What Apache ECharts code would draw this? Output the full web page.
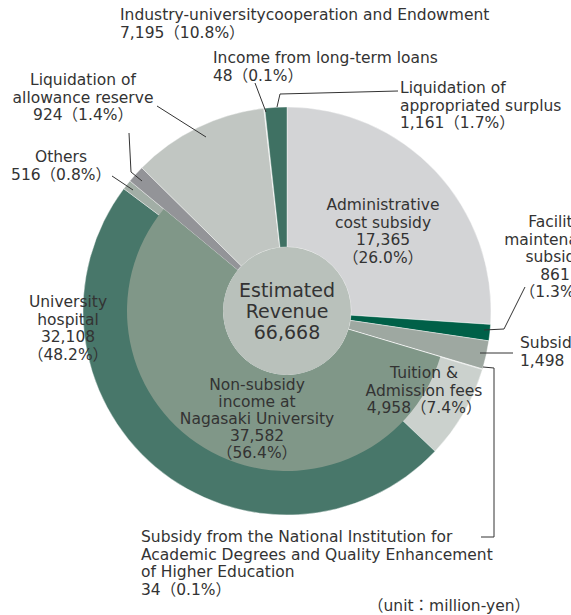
<!DOCTYPE html>
<html><head><meta charset="utf-8">
<script src="https://cdn.jsdelivr.net/npm/echarts@6/dist/echarts.min.js"></script>
<style>html,body{margin:0;padding:0;background:#fff}#c{width:571px;height:615px}</style>
</head><body><div id="c"></div>
<script>
// ---- data ----
const names = ['Administrative cost subsidy','Facility maintenance subsidy','Subsidy for facilities',
  'Subsidy from the National Institution for Academic Degrees and Quality Enhancement of Higher Education',
  'Tuition & Admission fees','University hospital','Others','Liquidation of allowance reserve',
  'Industry-universitycooperation and Endowment','Income from long-term loans','Liquidation of appropriated surplus'];
const values = [17365, 861, 1498, 34, 4958, 32108, 516, 924, 7195, 48, 1161];
const percents = [26.0, 1.3, 2.2, 0.1, 7.4, 48.2, 0.8, 1.4, 10.8, 0.1, 1.7];
const labelNameLines = [
  ['Administrative','cost subsidy'],
  ['Facility','maintenance','subsidy'],
  ['Subsidy for facilities'],
  ['Subsidy from the National Institution for','Academic Degrees and Quality Enhancement','of Higher Education'],
  ['Tuition &','Admission fees'],
  ['University','hospital'],
  ['Others'],
  ['Liquidation of','allowance reserve'],
  ['Industry-universitycooperation and Endowment'],
  ['Income from long-term loans'],
  ['Liquidation of','appropriated surplus']
];
const nonSubsidyName = 'Non-subsidy income at Nagasaki University';
const nonSubsidyLines = ['Non-subsidy','income at','Nagasaki University'];
const nonSubsidyValue = 37582;
const nonSubsidyPercent = 56.4;
const nonSubsidyMembers = [4, 5, 6];
const totalLines = ['Estimated','Revenue'];
const totalValue = 66668;
const unitText = '（unit：million-yen）';

// ---- styles / layout ----
const colors = ['#d3d4d6','#006048','#9ea8a1','#d0d5d2','#cbd1cd','#48776a','#a2aea6','#939498','#c1c6c2','#dfe3e0','#3f7163'];
const nonSubsidyColor = '#809788';
const centerColor = '#b9c1bb';
const C = [287, 311];
const FONT = '15.5px "DejaVu Sans", "Noto Sans CJK JP", sans-serif';
const LH = 17.5;
const labelPos = [
  {x:383, y:205, a:'center', split:true},
  {x:555, y:222, a:'center', split:true},
  {x:520, y:343, a:'left', split:false},
  {x:141, y:537, a:'left', split:false},
  {x:424, y:373, a:'center', split:false},
  {x:68,  y:302, a:'center', split:true},
  {x:61,  y:157, a:'center', split:false},
  {x:83,  y:80,  a:'center', split:false},
  {x:120, y:15,  a:'left', split:false},
  {x:213, y:58,  a:'left', split:false},
  {x:400, y:88,  a:'left', split:false}
];
const nonSubsidyPos = {x:257, y:385, a:'center', split:true};
const leaders = {
  8: [[157,106],[206,137]],
  9: [[255,83],[266,112]],
  10: [[398,91],[280,94],[277,107]],
  7: [[129,133],[131,172],[142,181]],
  6: [[112,176],[133,190]],
  1: [[525,287],[504,329],[484,330]],
  2: [[513,353],[480,353]],
  3: [[483,367],[494,368],[494,537],[481,537]]
};

const fmt = v => v.toLocaleString('en-US');
function labelText(lines, v, p, split) {
  const vs = fmt(v), ps = '（' + p.toFixed(1) + '%）';
  return lines.concat(split ? [vs, ps] : [vs + ps]).join('\n');
}

const outerData = names.map((n, i) => ({name: n, value: values[i], itemStyle: {color: colors[i]}}));
// inner overlay: transparent except non-subsidy block
const innerData = [];
let after = 0;
values.forEach((v, i) => {
  if (nonSubsidyMembers.includes(i)) return;
  if (i < nonSubsidyMembers[0]) innerData.push({name: names[i], value: v, itemStyle: {color: 'rgba(0,0,0,0)'}});
  else after += v;
});
innerData.push({name: nonSubsidyName, value: nonSubsidyValue, itemStyle: {color: nonSubsidyColor}});
innerData.push({name: 'rest', value: after, itemStyle: {color: 'rgba(0,0,0,0)'}});

const graphics = [];
labelPos.forEach((p, i) => {
  graphics.push({type: 'text', x: p.x, y: p.y - LH / 2, silent: true, z: 100,
    style: {text: labelText(labelNameLines[i], values[i], percents[i], p.split), font: FONT, fill: '#333',
      align: p.a, verticalAlign: 'top', lineHeight: LH}});
});
graphics.push({type: 'text', x: nonSubsidyPos.x, y: nonSubsidyPos.y - 8.5, silent: true, z: 100,
  style: {text: labelText(nonSubsidyLines, nonSubsidyValue, nonSubsidyPercent, true), font: FONT, fill: '#333',
    align: 'center', verticalAlign: 'top', lineHeight: 16.9}});
graphics.push({type: 'text', x: 368, y: 598, silent: true, z: 100,
  style: {text: unitText, font: FONT, fill: '#333', align: 'left', verticalAlign: 'top'}});
Object.keys(leaders).forEach(k => {
  graphics.push({type: 'polyline', silent: true, z: 100, shape: {points: leaders[k]},
    style: {stroke: '#333', lineWidth: 1, fill: null}});
});

const chart = echarts.init(document.getElementById('c'), null, {renderer: 'svg'});
chart.setOption({
  animation: false,
  series: [
    {type: 'pie', center: C, radius: [64, 204], startAngle: 90, clockwise: true, silent: true,
      label: {show: false}, labelLine: {show: false},
      itemStyle: {borderColor: '#fff', borderWidth: 0.4}, data: outerData},
    {type: 'pie', center: C, radius: [64, 160], startAngle: 90, clockwise: true, silent: true,
      label: {show: false}, labelLine: {show: false}, itemStyle: {borderWidth: 0}, data: innerData},
    {type: 'pie', center: C, radius: [0, 64], silent: true, labelLine: {show: false},
      itemStyle: {color: centerColor, borderWidth: 0},
      label: {show: true, position: 'center', color: '#333', fontSize: 19, lineHeight: 21,
        fontFamily: '"DejaVu Sans", "Noto Sans CJK JP", sans-serif',
        formatter: () => totalLines.concat([fmt(totalValue)]).join('\n')},
      data: [{name: 'Estimated Revenue', value: totalValue}]}
  ],
  graphic: graphics
});
</script></body></html>
